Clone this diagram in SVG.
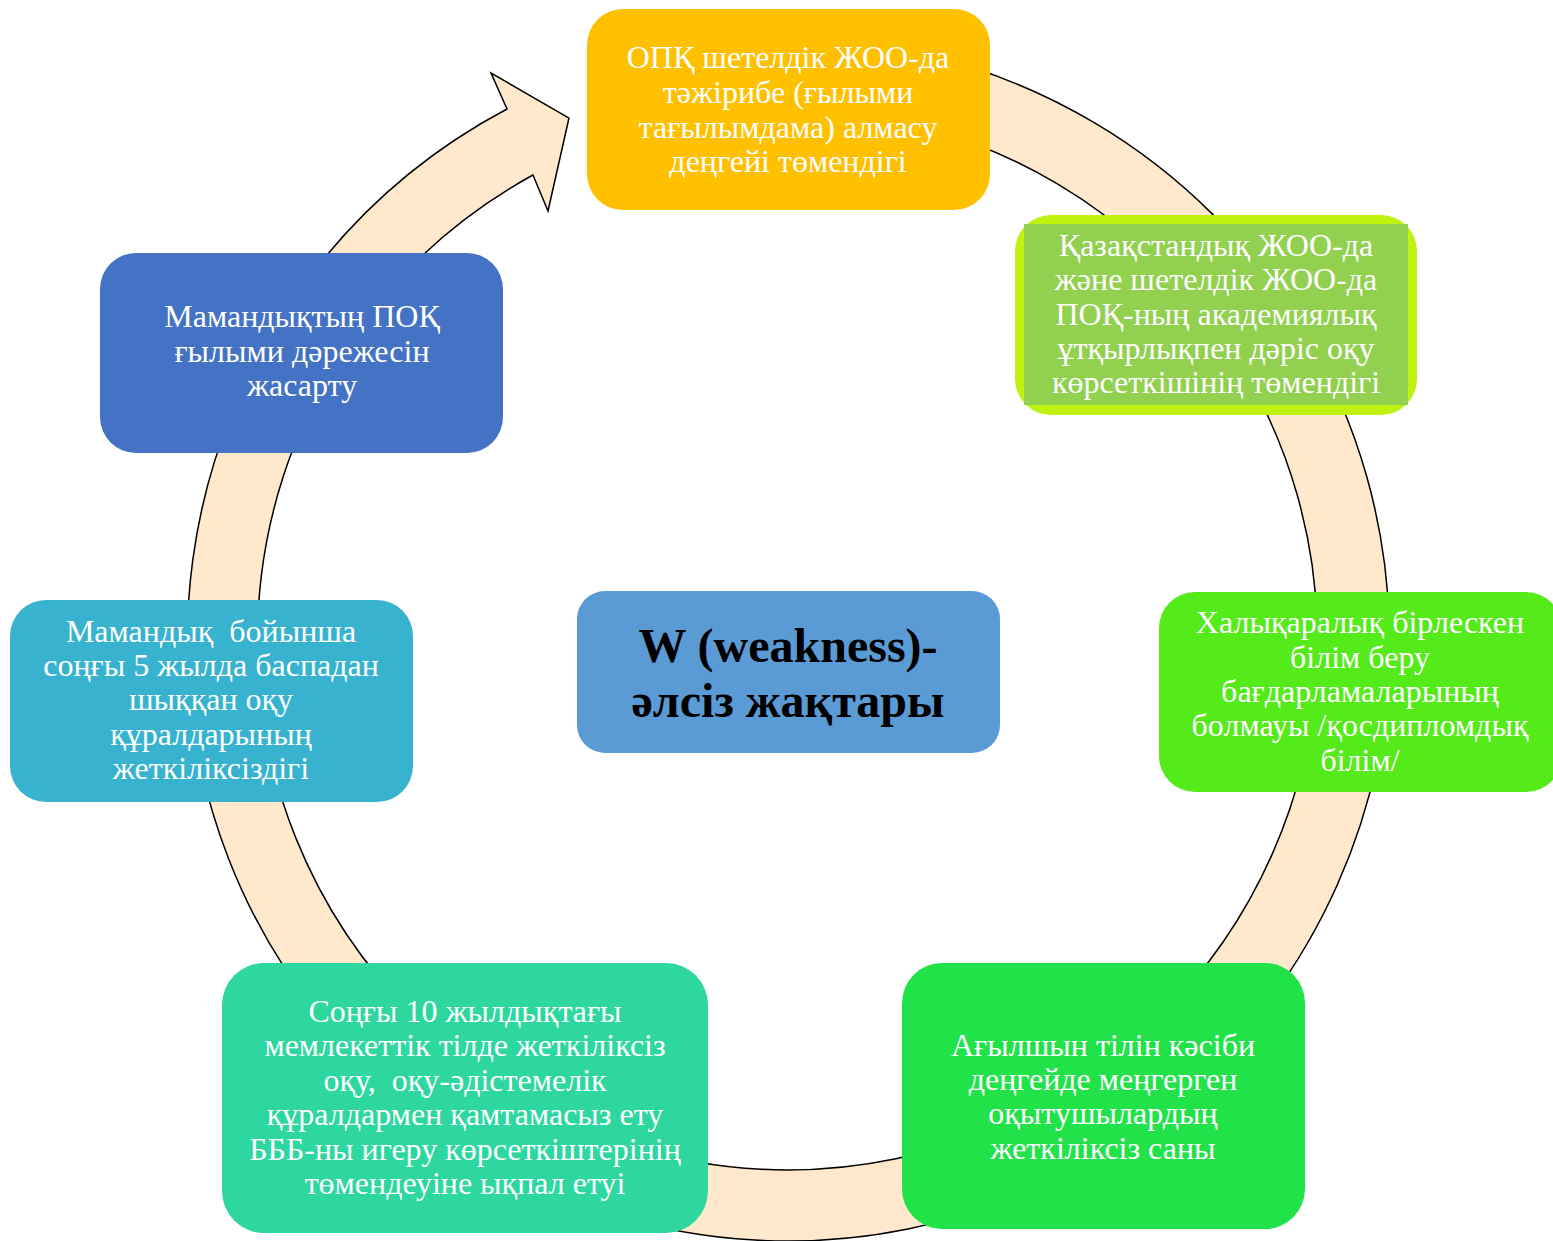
<svg xmlns="http://www.w3.org/2000/svg" width="1553" height="1241" viewBox="0 0 1553 1241">
<style>
.t{font-family:"Liberation Serif","Times New Roman",serif;font-size:32px;fill:#FFFFFF;text-anchor:middle;white-space:pre}
.c{font-family:"Liberation Serif","Times New Roman",serif;font-size:48px;font-weight:bold;fill:#000000;text-anchor:middle}
.ring{fill:#FFE8CC;stroke:#000000;stroke-width:1.5;stroke-linejoin:miter}
</style>
<rect width="1553" height="1241" fill="#FFFFFF"/>
<g id="connectors">
<path class="ring" d="M840.4,41.3 A601,601 0 1 1 507,109 L491,73 L569,118 L548,211 L533,175 A530,530 0 1 0 834.2,112 Z"/>
</g>
<g id="node-top">
<rect x="587" y="9" width="403" height="201" rx="36" fill="#FFC000"/>
<text class="t" x="788" y="68">ОПҚ шетелдік ЖОО-да</text>
<text class="t" x="788" y="103">тәжірибе (ғылыми</text>
<text class="t" x="788" y="138">тағылымдама) алмасу</text>
<text class="t" x="788" y="172">деңгейі төмендігі</text>
</g>
<g id="node-kaz">
<rect x="1015" y="215" width="402" height="200" rx="36" fill="#BFF20E"/>
<rect x="1024" y="224" width="384" height="181" fill="#92D050"/>
<text class="t" x="1216" y="256">Қазақстандық ЖОО-да</text>
<text class="t" x="1216" y="290">және шетелдік ЖОО-да</text>
<text class="t" x="1216" y="325">ПОҚ-ның академиялық</text>
<text class="t" x="1216" y="359">ұтқырлықпен дәріс оқу</text>
<text class="t" x="1216" y="393">көрсеткішінің төмендігі</text>
</g>
<g id="node-intl">
<rect x="1159" y="592" width="403" height="200" rx="36" fill="#55EA1A"/>
<text class="t" x="1360" y="633">Халықаралық бірлескен</text>
<text class="t" x="1360" y="668">білім беру</text>
<text class="t" x="1360" y="702">бағдарламаларының</text>
<text class="t" x="1360" y="736">болмауы /қосдипломдық</text>
<text class="t" x="1360" y="771">білім/</text>
</g>
<g id="node-eng">
<rect x="902" y="963" width="403" height="266" rx="40" fill="#22E24A"/>
<text class="t" x="1103" y="1056">Ағылшын тілін кәсіби</text>
<text class="t" x="1103" y="1090">деңгейде меңгерген</text>
<text class="t" x="1103" y="1124">оқытушылардың</text>
<text class="t" x="1103" y="1159">жеткіліксіз саны</text>
</g>
<g id="node-lang">
<rect x="222" y="963" width="486" height="270" rx="42" fill="#2DD79F"/>
<text class="t" x="465" y="1022">Соңғы 10 жылдықтағы</text>
<text class="t" x="465" y="1056">мемлекеттік тілде жеткіліксіз</text>
<text class="t" x="465" y="1091">оқу,  оқу-әдістемелік</text>
<text class="t" x="465" y="1125">құралдармен қамтамасыз ету</text>
<text class="t" x="465" y="1160">БББ-ны игеру көрсеткіштерінің</text>
<text class="t" x="465" y="1194">төмендеуіне ықпал етуі</text>
</g>
<g id="node-books">
<rect x="10" y="600" width="403" height="202" rx="36" fill="#38B3CF"/>
<text class="t" x="211" y="642">Мамандық  бойынша</text>
<text class="t" x="211" y="676">соңғы 5 жылда баспадан</text>
<text class="t" x="211" y="710">шыққан оқу</text>
<text class="t" x="211" y="745">құралдарының</text>
<text class="t" x="211" y="779">жеткіліксіздігі</text>
</g>
<g id="node-degree">
<rect x="100" y="253" width="403" height="200" rx="36" fill="#4472C4"/>
<text class="t" x="302" y="327">Мамандықтың ПОҚ</text>
<text class="t" x="302" y="362">ғылыми дәрежесін</text>
<text class="t" x="302" y="396">жасарту</text>
</g>
<g id="node-center">
<rect x="577" y="591" width="423" height="162" rx="28" fill="#5B9BD5"/>
<text class="c" x="788" y="662">W (weakness)-</text>
<text class="c" x="788" y="717">әлсіз жақтары</text>
</g>
</svg>
